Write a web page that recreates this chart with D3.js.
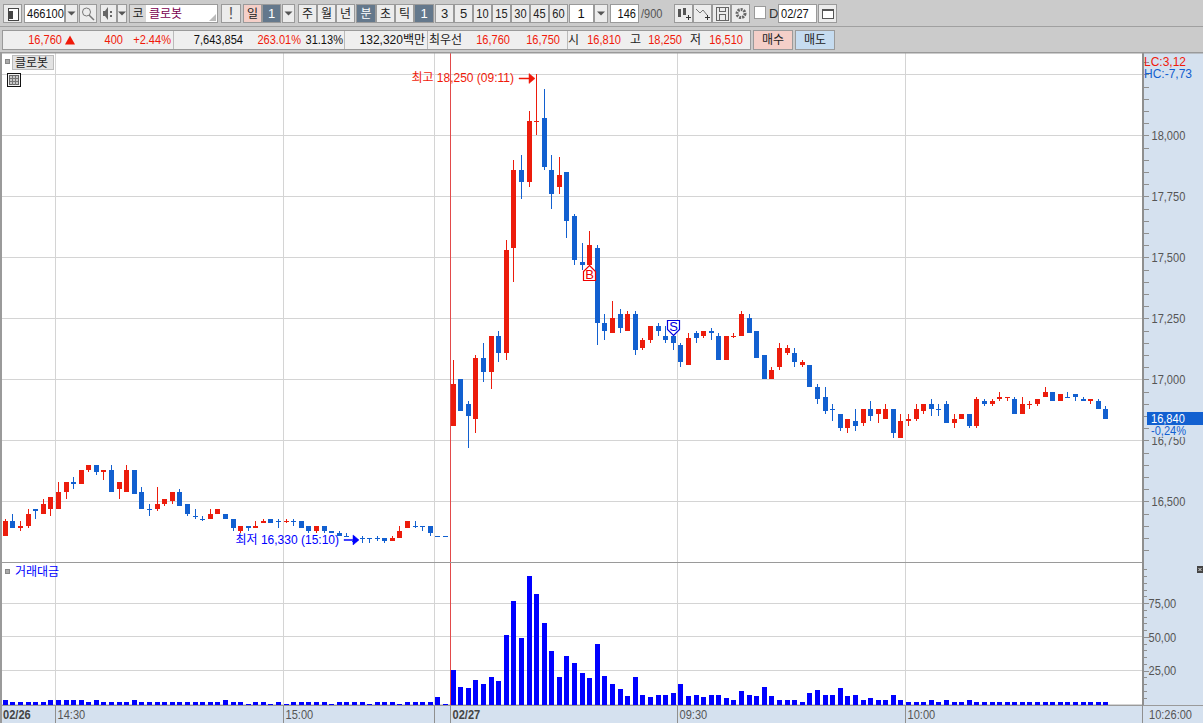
<!DOCTYPE html>
<html lang="ko">
<head>
<meta charset="utf-8">
<title>클로봇 분봉</title>
<script src="https://cdn.jsdelivr.net/npm/d3@7"></script>
<style>
  html, body { margin: 0; padding: 0; background: #cbcbcb; overflow: hidden; }
  svg { display: block; }
  text { font-family: "Liberation Sans", "Noto Sans CJK KR", sans-serif; font-size: 13px; }
</style>
</head>
<body>
<div id="chart"></div>
<script>
// 1-minute candles, 02/26 14:23 to 02/27 10:26
const opens = [
  16360,16420,16390,16400,16470,16450,16470,16470,16540,16580,
  16570,16630,16650,16620,16630,16550,16540,16630,16540,16470,
  16470,16490,16500,16540,16490,16440,16430,16430,16450,16450,
  16430,16380,16400,16390,16410,16430,16420,16420,16420,16420,
  16400,16380,16400,16380,16370,16360,16340,16350,16350,16350,
  16350,16340,16350,16390,16400,16400,16400,16360,16360,16810,
  17000,16900,16840,17090,17030,17180,17110,17540,17860,17810,
  18060,18070,17860,17790,17850,17670,17480,17470,17540,17230,
  17190,17270,17200,17270,17130,17160,17220,17180,17180,17140,
  17060,17190,17180,17200,17180,17080,17180,17180,17250,17200,
  17100,17000,17050,17110,17110,17060,17060,16970,16930,16880,
  16860,16800,16830,16820,16880,16860,16840,16880,16760,16830,
  16840,16870,16900,16880,16900,16820,16840,16860,16810,16910,
  16900,16920,16930,16920,16860,16900,16900,16930,16950,16910,
  16930,16940,16920,16910,16910,16880
];
const closes = [
  16420,16390,16400,16450,16460,16490,16520,16540,16580,16570,
  16630,16650,16620,16630,16540,16580,16630,16530,16470,16470,
  16490,16510,16540,16480,16450,16440,16430,16450,16470,16430,
  16390,16400,16390,16400,16420,16410,16420,16420,16420,16390,
  16380,16400,16380,16370,16360,16360,16340,16350,16350,16350,
  16340,16350,16380,16420,16400,16400,16370,16360,16360,16980,
  16870,16850,17090,17030,17180,17110,17530,17860,17810,18060,
  18060,17870,17760,17840,17650,17490,17470,17550,17230,17200,
  17250,17210,17270,17120,17160,17220,17200,17160,17150,17070,
  17170,17170,17200,17190,17080,17180,17180,17270,17190,17090,
  17000,17040,17130,17130,17070,17070,16970,16920,16870,16880,
  16800,16840,16810,16880,16850,16880,16880,16780,16830,16840,
  16880,16900,16880,16880,16820,16840,16860,16810,16920,16900,
  16910,16930,16930,16860,16900,16900,16920,16950,16910,16940,
  16930,16930,16910,16920,16880,16840
];
const highs = [
  16430,16450,16420,16470,16470,16510,16520,16580,16580,16600,
  16630,16650,16650,16630,16650,16580,16650,16630,16560,16490,
  16560,16510,16540,16550,16490,16470,16440,16470,16470,16450,
  16430,16400,16400,16420,16430,16430,16430,16430,16430,16420,
  16400,16400,16400,16380,16380,16370,16360,16360,16350,16360,
  16350,16360,16400,16420,16420,16400,16400,16360,16360,17080,
  17000,16910,17100,17150,17180,17200,17570,17900,17920,18100,
  18250,18190,17920,17910,17850,17680,17560,17610,17550,17270,
  17320,17290,17280,17280,17170,17220,17230,17220,17180,17150,
  17190,17200,17200,17210,17190,17180,17190,17280,17270,17200,
  17100,17050,17150,17140,17130,17080,17060,16980,16970,16900,
  16860,16840,16880,16880,16910,16880,16900,16880,16860,16860,
  16900,16900,16920,16900,16910,16860,16860,16860,16930,16920,
  16920,16950,16930,16930,16930,16910,16920,16970,16950,16940,
  16950,16940,16930,16920,16920,16890
];
const lows = [
  16360,16390,16380,16390,16430,16450,16440,16470,16510,16550,
  16570,16620,16610,16590,16540,16510,16540,16530,16470,16440,
  16460,16480,16490,16480,16440,16430,16420,16430,16450,16430,
  16380,16370,16380,16390,16410,16410,16390,16410,16400,16390,
  16370,16370,16370,16370,16360,16360,16340,16330,16330,16340,
  16330,16340,16350,16390,16390,16380,16360,16360,16360,16810,
  16870,16720,16780,16990,16960,17070,17080,17400,17740,17790,
  18000,17860,17700,17760,17580,17470,17450,17470,17140,17160,
  17190,17190,17200,17100,17120,17150,17180,17150,17120,17050,
  17060,17150,17170,17160,17080,17080,17170,17180,17190,17090,
  17000,17000,17040,17100,17050,17050,16970,16900,16860,16830,
  16790,16780,16790,16810,16830,16820,16840,16760,16760,16810,
  16830,16860,16850,16850,16820,16800,16840,16800,16800,16890,
  16890,16910,16910,16860,16860,16880,16890,16930,16910,16910,
  16930,16910,16910,16900,16880,16840
];
// Flat candles that still count as rising (drawn in the up colour)
const flatRising = [37, 70, 96, 132, 135];
// Traded value per minute, in the units of the lower pane's axis
const turnover = [
  3,2.2,1.5,2.2,1.5,1.5,3,3,3,3,
  3.7,2.2,3,2.2,2.2,2.2,2.2,3,1.5,1.5,
  2.2,1.5,1.5,1.5,1.5,1.5,1.5,2.2,1.5,3.7,
  1.5,1.5,0.7,1.5,1.5,0.7,1.5,0.7,1.5,1.5,
  1.5,1.5,1.5,0.7,2.2,2.2,1.5,1.5,0.7,1.5,
  1.5,1.5,0.7,1.5,1.5,1.5,1.5,5.2,0.7,25.3,
  12.7,11.9,17.9,14.9,20.1,17.1,51.4,76.7,49.1,95.3,
  81.9,60.3,39.5,20.1,35.7,30.5,23.1,19.4,44.7,20.8,
  14.9,11.2,6,20.1,6.7,5.2,7.4,7.4,8.2,14.9,
  6,6.7,5.2,6.7,7.4,4.5,3,9.7,6.7,6,
  12.7,6,3.7,3,3.7,2.2,8.2,10.4,6.7,7.4,
  11.9,6,6.7,3,4.5,3,3,6.7,3,2.2,
  1.5,2.2,3.7,1.5,3,2.2,1.5,3,2.2,1.5,
  1.5,2.2,1.5,2.2,1.5,1.5,1.5,2.2,2.2,1.5,
  1.5,1.5,1.5,1.5,2.2,2.2
];

const priceTicks = [16500, 16750, 17000, 17250, 17500, 17750, 18000];
const priceGridExtra = [18250];
const turnoverTicks = [25, 50, 75];
const timeLabels = ["14:30", "15:00", "09:30", "10:00"];
const timeLabelSlots = [7, 37, 89, 119];
const sessionClose = 57;
const sessionOpen = 59;

const highLabel = "최고 18,250 (09:11)";
const lowLabel = "최저 16,330 (15:10)";
const highSlot = 70, lowSlot = 47;
const buySlot = 77, sellSlot = 88;
const lastPrice = 16840;

// Header strip contents
const headerLeft = [
  ["16,760", "#f01a0a"], ["400", "#f01a0a"], ["+2.44%", "#f01a0a"], ["7,643,854", "#111"],
  ["263.01%", "#f01a0a"], ["31.13%", "#111"], ["132,320백만", "#111"]
];
const headerLeftEnds = [62, 123, 171, 243, 301, 343, 425];
const headerQuotes = [["16,760", 510], ["16,750", 560], ["16,810", 621], ["18,250", 682], ["16,510", 743]];
const headerCaptions = [["최우선", 429], ["시", 568], ["고", 630], ["저", 690]];

const W = 1203, H = 723;
const plot = { left: 2, right: 1142, top: 53, bottom: 561, volTop: 563, volBottom: 704.5 };
const RED = "#ec1c0c", BLUE = "#1260d0", GRID = "#d4d4d4", AXIS = "#8f8f8f", PANEL = "#d5e1ef", INK = "#555";

const svg = d3.select("#chart").append("svg").attr("width", W).attr("height", H);

const x = d3.scaleLinear().domain([0, 145]).range([5.3, 1105.9]);
const y = d3.scaleLinear().domain([16256, 18338]).range([plot.bottom, plot.top]);
const vy = d3.scaleLinear().domain([0, 104.8]).range([plot.volBottom, plot.volTop]);
const gridX = i => Math.floor(x(i) - 3) + 0.5;
const sharp = v => Math.floor(v) + 0.5;

/* ---------- frame ---------- */
svg.append("rect").attr("width", W).attr("height", H).attr("fill", "#cbcbcb");
svg.append("rect").attr("x", 0).attr("y", 52).attr("width", W).attr("height", H - 52).attr("fill", PANEL);
svg.append("rect").attr("x", plot.left).attr("y", plot.top).attr("width", plot.right - plot.left)
  .attr("height", plot.volBottom + 1 - plot.top).attr("fill", "#fff");

/* ---------- grid ---------- */
const grid = svg.append("g").attr("stroke", GRID).attr("shape-rendering", "crispEdges");
[...priceTicks, ...priceGridExtra].forEach(p => {
  grid.append("line").attr("x1", plot.left).attr("x2", plot.right).attr("y1", sharp(y(p))).attr("y2", sharp(y(p)));
});
turnoverTicks.forEach(v => {
  grid.append("line").attr("x1", plot.left).attr("x2", plot.right).attr("y1", sharp(vy(v))).attr("y2", sharp(vy(v)));
});
grid.append("line").attr("x1", plot.left).attr("x2", plot.right).attr("y1", 704.5).attr("y2", 704.5);
[...timeLabelSlots, sessionClose].forEach(i => {
  grid.append("line").attr("x1", gridX(i)).attr("x2", gridX(i)).attr("y1", plot.top).attr("y2", 705);
});

/* ---------- candles ---------- */
const slots = d3.range(opens.length);
const isUp = i => closes[i] > opens[i] || (closes[i] === opens[i] && flatRising.includes(i));
const candles = svg.append("g").attr("shape-rendering", "crispEdges");
candles.selectAll("rect.wick").data(slots).join("rect").attr("class", "wick")
  .attr("x", i => Math.floor(x(i)))
  .attr("y", i => Math.round(y(highs[i])))
  .attr("width", 1)
  .attr("height", i => Math.max(1, Math.round(y(lows[i])) - Math.round(y(highs[i]))))
  .attr("fill", i => isUp(i) ? RED : BLUE);
candles.selectAll("rect.body").data(slots).join("rect").attr("class", "body")
  .attr("x", i => Math.floor(x(i)) - 2)
  .attr("y", i => Math.round(y(Math.max(opens[i], closes[i]))))
  .attr("width", 5)
  .attr("height", i => Math.max(1, Math.round(y(Math.min(opens[i], closes[i]))) - Math.round(y(Math.max(opens[i], closes[i])))))
  .attr("fill", i => isUp(i) ? RED : BLUE);

/* ---------- turnover bars ---------- */
svg.append("g").attr("shape-rendering", "crispEdges").selectAll("rect").data(slots).join("rect")
  .attr("x", i => Math.floor(x(i)) - 2)
  .attr("y", i => Math.round(vy(turnover[i])))
  .attr("width", 5)
  .attr("height", i => Math.round(plot.volBottom + 0.5) - Math.round(vy(turnover[i])))
  .attr("fill", "#0000ff");

/* ---------- session divider ---------- */
svg.append("line").attr("x1", gridX(sessionOpen)).attr("x2", gridX(sessionOpen))
  .attr("y1", plot.top).attr("y2", 705).attr("stroke", "#e24a4a").attr("shape-rendering", "crispEdges");

/* ---------- price and turnover axes ---------- */
function styleAxis(g) {
  g.select(".domain").remove();
  g.selectAll(".tick line").attr("stroke", AXIS).attr("shape-rendering", "crispEdges");
  g.attr("font-family", null).attr("font-size", null);
  g.selectAll(".tick text").attr("fill", INK);
}
svg.append("rect").attr("x", 1142).attr("y", 52).attr("width", 2).attr("height", 654).attr("fill", AXIS);
const minorPrice = d3.range(16300, 18350, 50);
svg.append("g").attr("transform", "translate(1143.5,0)")
  .call(d3.axisRight(y).tickValues(minorPrice).tickSize(5).tickSizeOuter(0).tickFormat(""))
  .call(styleAxis);
svg.append("g").attr("transform", "translate(1143.5,0)")
  .call(d3.axisRight(y).tickValues(priceTicks).tickSize(5).tickPadding(3).tickSizeOuter(0).tickFormat(d3.format(",")))
  .call(styleAxis);
const minorTurnover = d3.range(5, 105, 5);
svg.append("g").attr("transform", "translate(1143.5,0)")
  .call(d3.axisRight(vy).tickValues(minorTurnover).tickSize(3).tickSizeOuter(0).tickFormat(""))
  .call(styleAxis);
svg.append("g").attr("transform", "translate(1143.5,0)")
  .call(d3.axisRight(vy).tickValues(turnoverTicks).tickSize(5).tickPadding(0).tickSizeOuter(0).tickFormat(d => d + ",00"))
  .call(styleAxis);

// current price flag on the price axis
const lastY = y(lastPrice);
svg.append("rect").attr("x", 1147).attr("y", Math.round(lastY) - 7).attr("width", 56).attr("height", 13).attr("fill", BLUE);
svg.append("text").attr("x", 1151).attr("y", Math.round(lastY) + 4).attr("fill", "#fff").text(d3.format(",")(lastPrice));
svg.append("rect").attr("x", 1149).attr("y", Math.round(lastY) + 6).attr("width", 54).attr("height", 12).attr("fill", PANEL);
svg.append("text").attr("x", 1151).attr("y", Math.round(lastY) + 16).attr("fill", BLUE).text("-0,24%");

svg.append("text").attr("class", "wide").attr("x", 1144).attr("y", 66).attr("fill", "#f01a0a")
  .style("font-size", "12px").text("LC:3,12");
svg.append("text").attr("class", "wide").attr("x", 1144).attr("y", 78).attr("fill", BLUE)
  .style("font-size", "12px").text("HC:-7,73");

/* ---------- pane borders ---------- */
const borders = svg.append("g").attr("fill", "#9a9a9a");
borders.append("rect").attr("x", 0).attr("y", 52).attr("width", W).attr("height", 1.5);
borders.append("rect").attr("x", 0).attr("y", 53).attr("width", 2).attr("height", H - 53);
borders.append("rect").attr("x", 2).attr("y", 562).attr("width", 1140).attr("height", 1);
borders.append("rect").attr("x", 0).attr("y", 705).attr("width", W).attr("height", 1);

/* ---------- time axis ---------- */
const timeAxis = svg.append("g");
const timeTick = i => gridX(i);
const tickLine = tx => timeAxis.append("line").attr("x1", tx).attr("x2", tx).attr("y1", 705).attr("y2", H)
  .attr("stroke", AXIS).attr("shape-rendering", "crispEdges");
timeLabelSlots.forEach((slot, k) => {
  tickLine(timeTick(slot));
  timeAxis.append("text").attr("x", timeTick(slot) + 2).attr("y", 719).attr("fill", INK).text(timeLabels[k]);
});
tickLine(gridX(sessionClose));
tickLine(gridX(sessionOpen));
tickLine(1142.5);
timeAxis.append("text").attr("x", 3).attr("y", 719).attr("fill", "#444").attr("font-weight", "bold").text("02/26");
timeAxis.append("text").attr("x", gridX(sessionOpen) + 2).attr("y", 719).attr("fill", "#444").attr("font-weight", "bold").text("02/27");
timeAxis.append("text").attr("x", 1149).attr("y", 719).attr("fill", INK).text("10:26:00");

/* ---------- high / low call-outs ---------- */
function arrow(xTip, yMid, length, color) {
  svg.append("path")
    .attr("d", `M${xTip - length},${yMid - 0.5}H${xTip - 6}V${yMid - 5}L${xTip},${yMid}L${xTip - 6},${yMid + 5}V${yMid + 0.5}H${xTip - length}Z`)
    .attr("fill", color).attr("stroke", color).attr("stroke-width", 0.5);
}
const highY = y(highs[highSlot]) + 4;
svg.append("text").attr("x", Math.floor(x(highSlot)) - 22).attr("y", highY + 4).attr("text-anchor", "end").attr("fill", "#f01a0a").text(highLabel);
arrow(Math.floor(x(highSlot)) - 1, highY, 16, "#f01a0a");
const lowY = y(lows[lowSlot]) - 3;
svg.append("text").attr("x", Math.floor(x(lowSlot)) - 23).attr("y", lowY + 4).attr("text-anchor", "end").attr("fill", "#0000ff").text(lowLabel);
arrow(Math.floor(x(lowSlot)) - 3, lowY, 15, "#0000ff");

/* ---------- trade markers ---------- */
function signal(slot, kind) {
  const cx = Math.floor(x(slot)) + 0.5;
  const isBuy = kind === "B";
  const color = isBuy ? "#f00000" : "#0000e0";
  const tipY = isBuy ? Math.round(y(lows[slot])) + 0.5 : Math.round(y(Math.max(opens[slot], closes[slot]))) - 0.5;
  const sign = isBuy ? 1 : -1;
  const d = `M${cx},${tipY}L${cx + 6},${tipY + sign * 6}V${tipY + sign * 15}H${cx - 6}V${tipY + sign * 6}Z`;
  svg.append("path").attr("d", d).attr("fill", "#fff").attr("stroke", color).attr("stroke-width", 1.2);
  svg.append("text").attr("x", cx).attr("y", isBuy ? tipY + 13.5 : tipY - 5).attr("text-anchor", "middle")
    .attr("fill", color).text(kind);
}
signal(buySlot, "B");
signal(sellSlot, "S");

/* ---------- pane captions ---------- */
svg.append("rect").attr("x", 5.5).attr("y", 59.5).attr("width", 4).attr("height", 4).attr("fill", "#aaa").attr("stroke", "#888");
svg.append("rect").attr("x", 12.5).attr("y", 55.5).attr("width", 41).attr("height", 14).attr("fill", "#e2e2e2").attr("stroke", "#bbb");
svg.append("text").attr("x", 15).attr("y", 67).attr("fill", "#222").text("클로봇");
const grd = svg.append("g").attr("shape-rendering", "crispEdges");
grd.append("rect").attr("x", 7.5).attr("y", 73.5).attr("width", 13).attr("height", 13).attr("fill", "#f2f2f2").attr("stroke", "#111");
grd.append("rect").attr("x", 9.5).attr("y", 75.5).attr("width", 9).attr("height", 9).attr("fill", "#c8c8c8").attr("stroke", "#666");
[12.5, 15.5].forEach(p => grd.append("line").attr("x1", p).attr("x2", p).attr("y1", 76).attr("y2", 85).attr("stroke", "#777"));
[78.5, 81.5].forEach(p => grd.append("line").attr("x1", 10).attr("x2", 18).attr("y1", p).attr("y2", p).attr("stroke", "#777"));
svg.append("rect").attr("x", 5.5).attr("y", 569.5).attr("width", 4).attr("height", 4).attr("fill", "#aaa").attr("stroke", "#888");
svg.append("text").attr("x", 15).attr("y", 576).attr("fill", "#0000ff").text("거래대금");
svg.append("rect").attr("x", 1197).attr("y", 566).attr("width", 6).attr("height", 7).attr("fill", "#444");
svg.append("path").attr("d", "M1198.5,568l3,3m0,-3l-3,3").attr("stroke", "#ddd").attr("fill", "none");

/* ---------- toolbar ---------- */
const bar = svg.append("g").attr("shape-rendering", "crispEdges");
function box(px, py, w, h, fill = "#ececec", stroke = "#9a9a9a") {
  bar.append("rect").attr("x", px + 0.5).attr("y", py + 0.5).attr("width", w - 1).attr("height", h - 1).attr("fill", fill).attr("stroke", stroke);
}
function label(px, py, s, color = "#222", anchor = "middle", size = 13) {
  bar.append("text").attr("x", px).attr("y", py).attr("fill", color).attr("text-anchor", anchor)
    .attr("shape-rendering", "auto").style("font-size", size + "px").text(s);
}
function button(px, w, s, fill, color) {
  box(px, 4, w, 19, fill);
  if (s) label(px + w / 2, 18, s, color);
}
function dropdown(px, w) {
  box(px, 4, w, 19);
  bar.append("path").attr("d", `M${px + w / 2 - 4},11.5h8l-4,4z`).attr("fill", "#555").attr("shape-rendering", "auto");
}
bar.append("rect").attr("x", 0).attr("y", 26).attr("width", W).attr("height", 1).attr("fill", "#a0a0a0");

button(3, 19, "");
bar.append("rect").attr("x", 8).attr("y", 8).attr("width", 10).attr("height", 12).attr("fill", "#fff").attr("stroke", "#444");
bar.append("rect").attr("x", 8).attr("y", 11).attr("width", 5).attr("height", 8).attr("fill", "#444");
box(24, 4, 41, 19, "#fff"); label(27, 18, "466100", "#111", "start");
dropdown(65, 13);
button(79, 18, "");
bar.append("circle").attr("cx", 86.5).attr("cy", 12).attr("r", 4).attr("fill", "none").attr("stroke", "#777").attr("shape-rendering", "auto");
bar.append("line").attr("x1", 89).attr("y1", 15).attr("x2", 94).attr("y2", 20).attr("stroke", "#777").attr("stroke-width", 1.5).attr("shape-rendering", "auto");
button(100, 17, "");
bar.append("path").attr("d", "M103,11h2l3-4v13l-3-4h-2z").attr("fill", "#666").attr("shape-rendering", "auto");
bar.append("rect").attr("x", 110).attr("y", 11).attr("width", 2).attr("height", 2).attr("fill", "#666");
bar.append("rect").attr("x", 110).attr("y", 15).attr("width", 2).attr("height", 2).attr("fill", "#666");
dropdown(117, 10);
box(129, 4, 89, 19, "#fff");
bar.append("rect").attr("x", 130).attr("y", 5).attr("width", 16).attr("height", 17).attr("fill", "#d8d8d8");
label(138, 18, "코", "#222");
label(149, 18, "클로봇", "#7a0050", "start");
bar.append("path").attr("d", "M216,21h-7l7-7z").attr("fill", "#bbb").attr("shape-rendering", "auto");
box(221, 4, 20, 19);
label(231, 19, "!", "#555", "middle", 16);
button(243, 19, "일", "#f4cfc8", "#222");
button(262, 19, "1", "#64788c", "#fff");
dropdown(282, 13);
["주", "월", "년"].forEach((s, k) => button(298 + k * 19, 19, s));
button(356, 20, "분", "#64788c", "#fff");
["초", "틱"].forEach((s, k) => button(376 + k * 19, 19, s));
button(414, 20, "1", "#64788c", "#fff");
["3", "5", "10", "15", "30", "45", "60"].forEach((s, k) => button(435 + k * 19, 19, s));
box(569, 4, 25, 19, "#fff"); label(581, 18, "1", "#111");
dropdown(594, 14);
box(610, 4, 29, 19, "#fff"); label(636, 18, "146", "#111", "end");
label(641, 18, "/900", "#555", "start");
[674, 693, 712, 731].forEach(px => button(px, 19, ""));
// candle-add icon
bar.append("rect").attr("x", 678).attr("y", 9).attr("width", 3).attr("height", 8).attr("fill", "#555");
bar.append("rect").attr("x", 683).attr("y", 8).attr("width", 3).attr("height", 7).attr("fill", "#555");
bar.append("path").attr("d", "M686,17h5M688.5,15v5").attr("stroke", "#333").attr("fill", "none");
// line-add icon
bar.append("path").attr("d", "M696,9l4,4 3-3 4,5").attr("stroke", "#777").attr("fill", "none").attr("shape-rendering", "auto");
bar.append("path").attr("d", "M705,17h5M707.5,15v5").attr("stroke", "#333").attr("fill", "none");
// save icon
bar.append("rect").attr("x", 716).attr("y", 7).attr("width", 12).attr("height", 13).attr("fill", "none").attr("stroke", "#666");
bar.append("rect").attr("x", 719).attr("y", 7).attr("width", 6).attr("height", 4).attr("fill", "none").attr("stroke", "#666");
bar.append("rect").attr("x", 719).attr("y", 14).attr("width", 6).attr("height", 6).attr("fill", "none").attr("stroke", "#666");
// settings icon
bar.append("circle").attr("cx", 741).attr("cy", 13.5).attr("r", 4).attr("fill", "none").attr("stroke", "#666").attr("stroke-width", 3).attr("stroke-dasharray", "2 1").attr("shape-rendering", "auto");
box(754, 6, 12, 13, "#fff");
label(769, 18, "D", "#333", "start");
box(778, 4, 39, 19, "#fff"); label(781, 18, "02/27", "#111", "start");
button(818, 19, "");
bar.append("rect").attr("x", 822).attr("y", 9).attr("width", 11).attr("height", 9).attr("fill", "#fff").attr("stroke", "#555");
bar.append("rect").attr("x", 822).attr("y", 9).attr("width", 11).attr("height", 2).attr("fill", "#555");

/* ---------- quote strip ---------- */
box(2, 30, 749, 20, "#efefef");
[173, 344, 427, 567].forEach(px => bar.append("rect").attr("x", px).attr("y", 31).attr("width", 1).attr("height", 18).attr("fill", "#bbb"));
headerLeft.forEach(([s, c], k) => label(headerLeftEnds[k], 44, s, c, "end"));
bar.append("path").attr("d", "M65,44.5l5-9 5,9z").attr("fill", "#f01a0a").attr("shape-rendering", "auto");
headerCaptions.forEach(([s, px]) => label(px, 44, s, "#222", "start"));
headerQuotes.forEach(([s, px]) => label(px, 44, s, "#f01a0a", "end"));
box(753, 30, 40, 20, "#f4cfc8"); label(773, 44, "매수", "#222");
box(795, 30, 40, 20, "#c6dcf0"); label(815, 44, "매도", "#222");

/* ---------- type fitting: latin figures run condensed, Hangul sits at 12px ---------- */
svg.selectAll("text").each(function () {
  const node = d3.select(this);
  if (node.classed("wide")) return;
  if (/[\uAC00-\uD7A3]/.test(node.text())) {
    node.style("font-size", "12px");
  } else if (node.text().length > 1) {
    node.attr("textLength", (this.getComputedTextLength() * 0.85).toFixed(1)).attr("lengthAdjust", "spacingAndGlyphs");
  }
});
</script>
</body>
</html>
